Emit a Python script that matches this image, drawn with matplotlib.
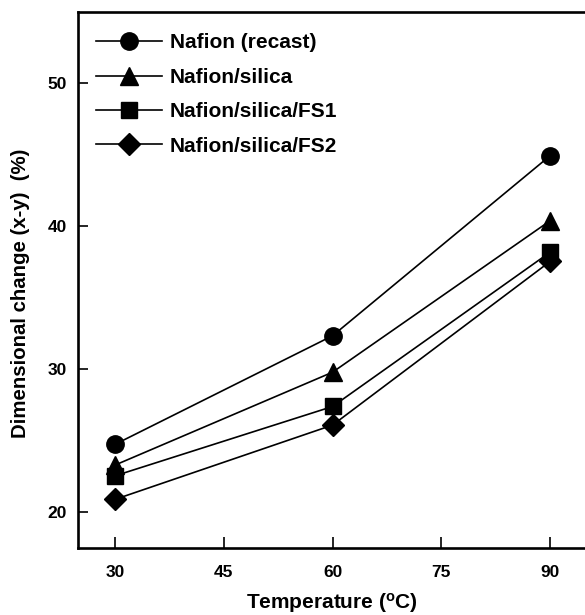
import matplotlib
matplotlib.use("Agg")
import matplotlib.pyplot as plt

# Data
temps = [30, 60, 90]
recast = [24.75, 32.35, 44.95]
silica = [23.3, 29.8, 40.4]
fs1 = [22.55, 27.4, 38.2]
fs2 = [20.9, 26.1, 37.55]
labels = ["Nafion (recast)", "Nafion/silica", "Nafion/silica/FS1", "Nafion/silica/FS2"]
x_ticks = [30, 45, 60, 75, 90]
y_ticks = [20, 30, 40, 50]

plt.rcParams["font.family"] = "Liberation Sans"
plt.rcParams["font.weight"] = "bold"
plt.rcParams["mathtext.fontset"] = "custom"
plt.rcParams["mathtext.rm"] = "Liberation Sans:bold"
plt.rcParams["mathtext.it"] = "Liberation Sans:bold"
plt.rcParams["mathtext.bf"] = "Liberation Sans:bold"

fig = plt.figure(figsize=(5.85, 6.15), dpi=100)
ax = fig.add_axes([78 / 585, 1 - 548 / 615, 507 / 585, 536 / 615])

ax.plot(temps, recast, color="black", lw=1.2, marker="o", ms=12.5, label=labels[0])
ax.plot(temps, silica, color="black", lw=1.2, marker="^", ms=13.5, label=labels[1])
ax.plot(temps, fs1, color="black", lw=1.2, marker="s", ms=12, label=labels[2])
ax.plot(temps, fs2, color="black", lw=1.2, marker="D", ms=10.7, label=labels[3])

ax.set_xlim(24.9, 94.8)
ax.set_ylim(17.5, 55)
ax.set_xticks(x_ticks)
ax.set_yticks(y_ticks)

for side in ["top", "bottom", "left"]:
    ax.spines[side].set_linewidth(1.9)
ax.spines["right"].set_visible(False)

ax.tick_params(axis="both", direction="in", width=1.2, labelsize=12.5)
ax.tick_params(axis="x", length=8, pad=12)
ax.tick_params(axis="y", length=7, pad=8)

ax.set_xlabel(r"Temperature ($^{\mathrm{o}}$C)", fontsize=15, fontweight="bold", labelpad=8)
ax.set_ylabel("Dimensional change (x-y)  (%)", fontsize=14.7, fontweight="bold")
ax.yaxis.set_label_coords(-0.094, 0.476)

ax.legend(loc="upper left", bbox_to_anchor=(0.0355, 0.96), frameon=False,
          fontsize=15, handlelength=3.17, handletextpad=0.38, labelspacing=0.74,
          borderpad=0, borderaxespad=0)

fig.savefig("out.png", dpi=100)
